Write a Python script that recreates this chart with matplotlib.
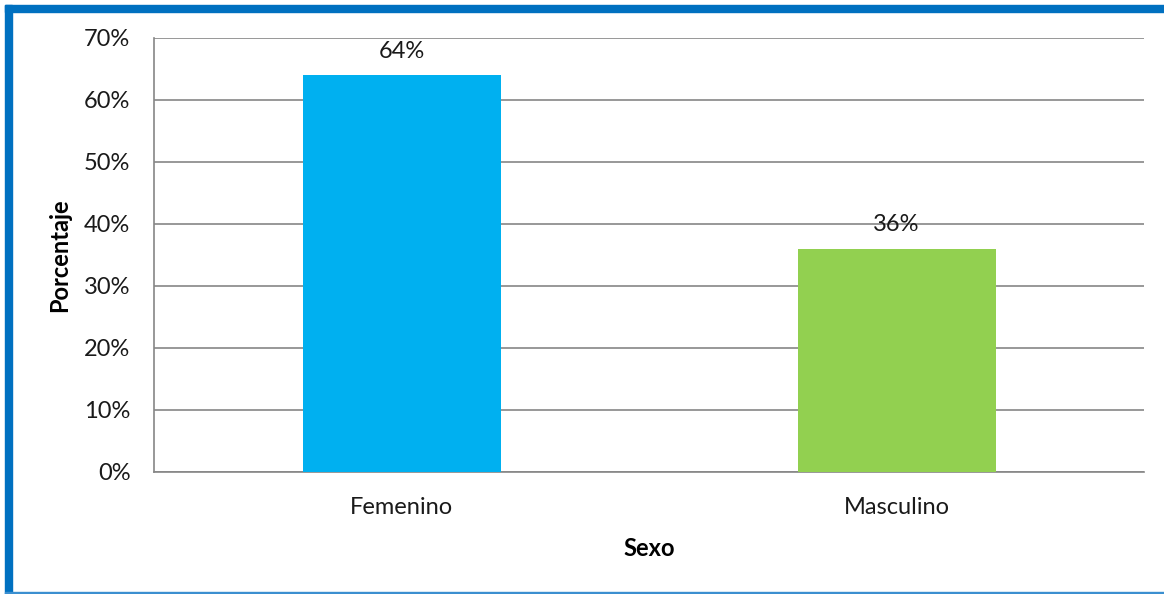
import matplotlib.pyplot as plt
from matplotlib.patches import Rectangle

categorias = ["Femenino", "Masculino"]
porcentajes = [64, 36]
colores = ["#00B0F0", "#92D050"]
yticks = [0, 10, 20, 30, 40, 50, 60, 70]

plt.rcParams['font.family'] = ['Lato', 'DejaVu Sans']
fs = 17

W, H = 1164, 594
fig = plt.figure(figsize=(W / 100, H / 100), dpi=100)
ax = fig.add_axes([154 / W, 1 - 472 / H, 990 / W, 434 / H])

x = range(len(categorias))
ax.bar(x, porcentajes, width=0.4, color=colores, zorder=3)
for xi, v in zip(x, porcentajes):
    ax.text(xi, v + 3.9, f"{v}%", ha="center", va="center", fontsize=fs, color="#1a1a1a")

ax.set_xlim(-0.5, 1.5)
ax.set_ylim(0, 70)
ax.set_yticks(yticks)
ax.set_yticklabels([f"{t}%" for t in yticks], fontsize=fs, color="#1a1a1a")
ax.set_xticks(list(x))
ax.set_xticklabels(categorias, fontsize=fs, color="#1a1a1a")
ax.tick_params(axis="y", length=0, pad=17)
ax.tick_params(axis="x", length=0, pad=18)
ax.grid(axis="y", color="#868686", linewidth=1.2, zorder=0)
for s in ["top", "right"]:
    ax.spines[s].set_visible(False)
for s in ["left", "bottom"]:
    ax.spines[s].set_color("#868686")
    ax.spines[s].set_linewidth(1.2)

ax.set_ylabel("Porcentaje", fontsize=fs, fontweight="bold", labelpad=9)
ax.set_xlabel("Sexo", fontsize=fs, fontweight="bold", labelpad=14)

# marco azul
azul = "#0070C0"
fig.patches.append(Rectangle((5 / W, 0), 7 / W, 1 - 5 / H, transform=fig.transFigure, color=azul, zorder=10))
fig.patches.append(Rectangle((5 / W, 1 - 12 / H), 1, 7 / H, transform=fig.transFigure, color=azul, zorder=10))
fig.patches.append(Rectangle((5 / W, 0), 1, 2 / H, transform=fig.transFigure, color="#3B8FD0", zorder=10))

fig.savefig("out.png", dpi=100)
